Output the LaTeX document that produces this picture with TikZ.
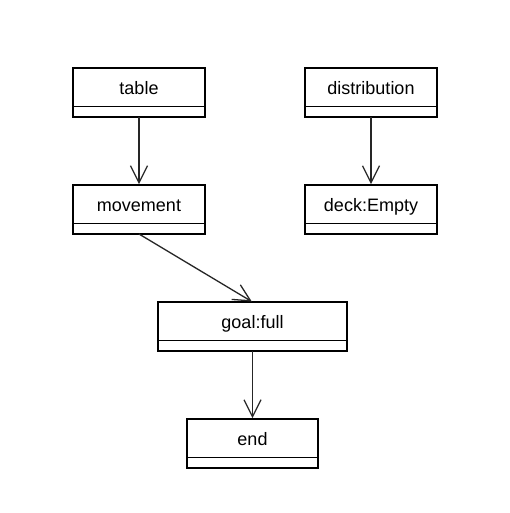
\documentclass[tikz,border=0pt]{standalone}
\usepackage{fontspec}
\setmainfont{Liberation Sans}
\usetikzlibrary{arrows.meta}
\tikzset{
  umlbox/.style={draw=black, line width=1.5pt, rectangle, inner sep=0pt, outer sep=0pt},
  umltext/.style={inner sep=0pt, text height=13pt, text depth=0pt, font=\fontsize{18}{20}\selectfont},
  conn/.style={draw=black!85, line width=1.3pt, -{Straight Barb[length=17pt,width=17pt,line width=1.3pt]}, shorten >=0.8pt}
}
% \umlclass{name}{x1}{y1}{x2}{y2}{ydiv}{text}
\newcommand{\umlclass}[7]{%
  \node[umlbox, minimum width={(#4-#2)*1pt}, minimum height={(#5-#3)*1pt}] (#1) at ({(#2+#4)/2},{(#3+#5)/2}) {};
  \draw[line width=1.5pt] (#2,#6) -- (#4,#6);
  \node[umltext] (#1-label) at ({(#2+#4)/2},{(#3+#6)/2+0.5}) {#7};
}
\begin{document}
\begin{tikzpicture}[x=1pt,y=-1pt]
  \useasboundingbox[fill=white] (0,0) rectangle (509,513);
  \umlclass{table}{73}{68}{205}{117}{106.5}{table}
  \umlclass{distribution}{305}{68}{437}{117}{106.5}{distribution}
  \umlclass{movement}{73}{185}{205}{234}{223.5}{movement}
  \umlclass{deck}{305}{185}{437}{234}{223.5}{deck:Empty}
  \umlclass{goal}{158}{302}{347}{351}{340.5}{goal:full}
  \umlclass{end}{187}{419}{318}{468}{457.5}{end}
  \draw[conn] (table.south) -- (movement.north);
  \draw[conn] (distribution.south) -- (deck.north);
  \draw[conn] (movement.south) -- (goal.north);
  \draw[conn] (goal.south) -- (end.north);
\end{tikzpicture}
\end{document}
